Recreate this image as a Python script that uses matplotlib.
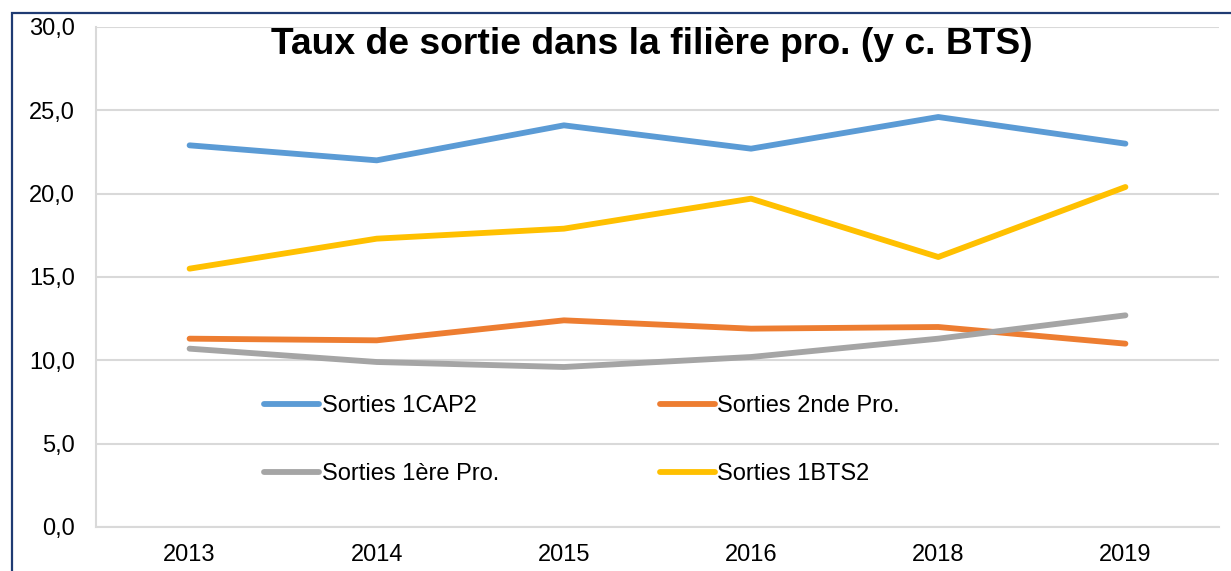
import matplotlib
matplotlib.use("Agg")
import matplotlib.pyplot as plt
from matplotlib.patches import Rectangle
from matplotlib.ticker import FuncFormatter

plt.rcParams['font.family'] = ['Liberation Sans', 'DejaVu Sans']

# data
years = ['2013', '2014', '2015', '2016', '2018', '2019']
cap2 = [22.9, 22.0, 24.1, 22.7, 24.6, 23.0]
seconde_pro = [11.3, 11.2, 12.4, 11.9, 12.0, 11.0]
premiere_pro = [10.7, 9.9, 9.6, 10.2, 11.3, 12.7]
bts2 = [15.5, 17.3, 17.9, 19.7, 16.2, 20.4]

fig = plt.figure(figsize=(12.31, 5.71), dpi=100)
ax = fig.add_axes([96 / 1231, 1 - 527 / 571, 1123 / 1231, 500 / 571])

# dark blue frame around the chart area (runs off the right / bottom edges)
fig.patches.append(Rectangle((12 / 1231, -0.1), 1.2, 1.1 - 12.5 / 571,
                             transform=fig.transFigure, fill=False,
                             edgecolor='#1F3B73', linewidth=1.6, clip_on=False))

x = range(len(years))
lw = 4.2
l1, = ax.plot(x, cap2, color='#5B9BD5', lw=lw, solid_capstyle='round', label='Sorties 1CAP2')
l2, = ax.plot(x, seconde_pro, color='#ED7D31', lw=lw, solid_capstyle='round', label='Sorties 2nde Pro.')
l3, = ax.plot(x, premiere_pro, color='#A5A5A5', lw=lw, solid_capstyle='round', label='Sorties 1ère Pro.')
l4, = ax.plot(x, bts2, color='#FFC000', lw=lw, solid_capstyle='round', label='Sorties 1BTS2')

ax.set_xlim(-0.5, len(years) - 0.5)
ax.set_ylim(0, 30)
ax.set_yticks(range(0, 31, 5))
ax.yaxis.set_major_formatter(FuncFormatter(lambda v, p: f"{v:.1f}".replace('.', ',')))
ax.set_xticks(list(x))
ax.set_xticklabels(years)
ax.tick_params(axis='both', length=0, labelsize=17, colors='black')
ax.tick_params(axis='y', pad=15)
ax.tick_params(axis='x', pad=12)

ax.grid(axis='y', color='#D9D9D9', lw=1.5)
ax.set_axisbelow(True)
for s in ['top', 'right']:
    ax.spines[s].set_visible(False)
for s in ['left', 'bottom']:
    ax.spines[s].set_color('#D9D9D9')
    ax.spines[s].set_linewidth(1.5)

fig.text(652 / 1231, 1 - 45 / 571, 'Taux de sortie dans la filière pro. (y c. BTS)',
         ha='center', va='center', fontsize=26.8, fontweight='bold')

# column-major order so the rows read CAP2 / 2nde, then 1ère / BTS2
ax.legend([l1, l3, l2, l4], [l.get_label() for l in (l1, l3, l2, l4)],
          ncol=2, loc='upper left', bbox_to_anchor=(0.150, 0.264), frameon=False,
          fontsize=17, handlelength=2.33, handletextpad=0.1, columnspacing=6.8,
          labelspacing=1.95, borderpad=0, borderaxespad=0)

fig.savefig('out.png', dpi=100)
